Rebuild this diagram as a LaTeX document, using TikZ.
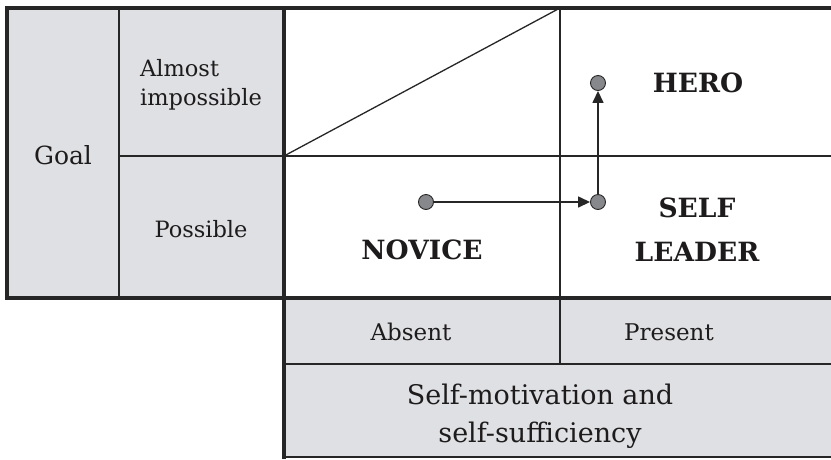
\documentclass[tikz,border=0pt]{standalone}
\usepackage{fontspec}
\setmainfont{DejaVu Serif}
\usetikzlibrary{arrows.meta}
\definecolor{cellgrey}{HTML}{DFE0E3}
\definecolor{linec}{HTML}{262626}
\definecolor{dotgrey}{HTML}{87888B}
\definecolor{txt}{HTML}{1E1B1C}
\begin{document}
\begin{tikzpicture}[x=1pt,y=-1pt,
 thinline/.style={draw=linec,line width=1.3pt},
 thickline/.style={draw=linec,line width=3.3pt,line cap=rect},
 lbl/.style={text=txt,inner sep=0pt,align=center},
 bold/.style={lbl,font=\fontsize{26.5}{44}\selectfont\bfseries},
 dot/.style={circle,draw=linec,fill=dotgrey,line width=0.9pt,minimum size=15pt,inner sep=0pt},
 arr/.style={draw=linec,line width=1.5pt,-{Triangle[length=12pt,width=11pt]}}]
\useasboundingbox (0,0) rectangle (831,459);
% fills
\fill[cellgrey] (7,8) rectangle (284,298);
\fill[cellgrey] (284,298) rectangle (831,457);
\fill[white] (284,8) rectangle (831,298);
% thin lines
\draw[thinline] (119,8) -- (119,298);
\draw[thinline] (119,156) -- (831,156);
\draw[thinline] (560,8) -- (560,364);
\draw[thinline] (284,364) -- (831,364);
\draw[thinline] (284,156) -- (560,8);
\draw[thinline,line width=1.8pt] (284,457) -- (831,457);
% thick lines
\draw[thickline] (831,8) -- (7,8) -- (7,298) -- (831,298);
\draw[thickline] (284,8) -- (284,457);
% left labels
\node[lbl,font=\fontsize{25}{28}\selectfont] (goal) at (63,155) {Goal};
\node[lbl,align=left,font=\fontsize{22.5}{29}\selectfont] (almost) at (201,85) {Almost\\impossible};
\node[lbl,font=\fontsize{22.5}{29}\selectfont] (possible) at (201,229) {Possible};
% bottom labels
\node[lbl,font=\fontsize{23}{28}\selectfont] (absent) at (411,332) {Absent};
\node[lbl,font=\fontsize{23}{28}\selectfont] (present) at (669,332) {Present};
\node[lbl,font=\fontsize{27}{38}\selectfont] (selfmot) at (540,416) {Self-motivation and\\self-sufficiency};
% quadrant labels
\node[bold] (hero) at (698,83) {HERO};
\node[bold] (novice) at (422,250) {NOVICE};
\node[bold] (leader) at (697,230) {SELF\\LEADER};
% dots and arrows
\node[dot] (d1) at (426,202) {};
\node[dot] (d2) at (598,202) {};
\node[dot] (d3) at (598,83) {};
\draw[arr] (d1) -- (d2);
\draw[arr] (d2) -- (d3);
\end{tikzpicture}
\end{document}
